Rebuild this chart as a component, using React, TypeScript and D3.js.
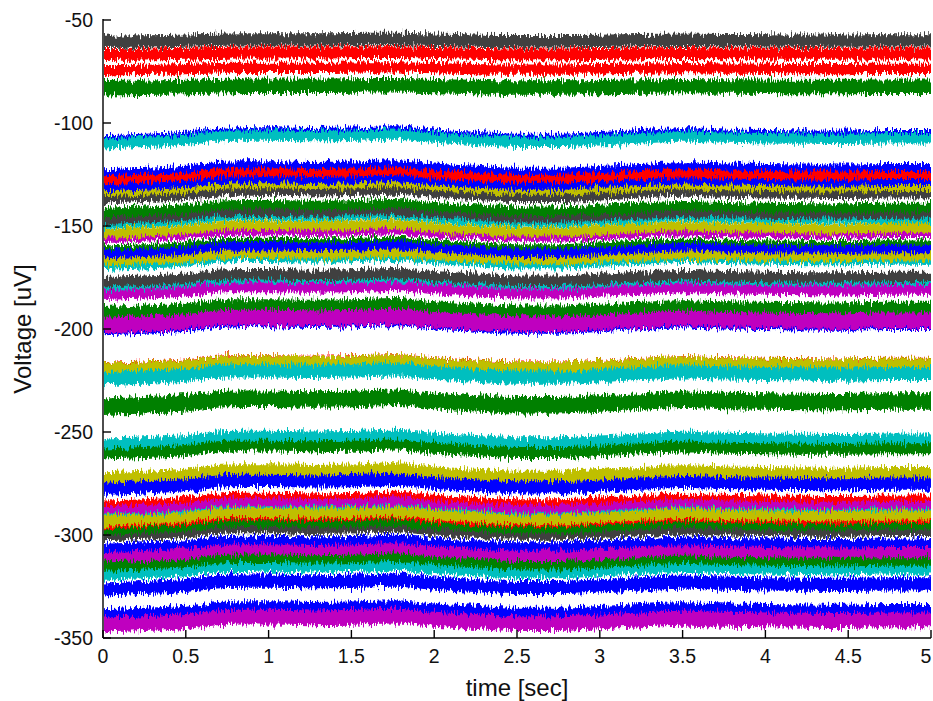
import React from "react";
import * as d3 from "d3";

const W = 933;
const H = 701;
const margin = { left: 103, right: 2, top: 20, bottom: 63 };

const driftTimes = [0, 0.25, 0.5, 0.75, 1, 1.25, 1.5, 1.75, 2, 2.25, 2.5, 2.75, 3, 3.25, 3.5, 3.75, 4, 4.25, 4.5, 4.75, 5];
const driftUpper = [-0.6, -0.4, 0, 0.5, 0.6, 0.6, 0.7, 0.8, 0.4, 0, -0.3, -0.3, -0.1, 0.2, 0.4, 0.2, 0.1, 0, 0, 0.1, 0.1];
const driftLower = [-2.5, -1.8, -0.8, 1.2, 1.3, 1.0, 1.2, 1.8, 0.3, -0.8, -1.8, -1.8, -1.0, 0, 0.8, 0.3, 0, -0.2, -0.3, 0, 0];

// channel mean level (uV), colour code and noise half-width (uV), in drawing order
const traceLevels = [
  -60, -66.5, -70.8, -74.3, -77.8, -82.5,
  -105.4, -107.4, -122.4, -126.3, -129.7, -132.6, -136, -137.8, -141.9, -145.8, -148, -149.7, -151.6,
  -155.5, -157, -158.8, -162.3, -165.7, -168.6, -171, -175.4, -178.8, -181.7, -185.6, -190, -198, -195.8,
  -218.5, -217.2, -221.6, -235.2,
  -256.6, -254.2, -259, -263, -270.2, -275.6, -279.5, -283.3, -286.3, -288.5, -291.1, -294.5, -296,
  -299.9, -301.5, -304.7, -308.6, -314, -313, -317.4, -320.2, -323.7, -336, -341.2,
];
const traceColors = [
  "k", "r", "w", "r", "w", "g",
  "b", "c", "b", "r", "b", "y", "k", "w", "g", "k", "c", "w", "y",
  "m", "w", "g", "b", "y", "c", "w", "k", "c", "m", "w", "g", "b", "m",
  "r", "y", "c", "g",
  "k", "c", "g", "w", "y", "b", "w", "r", "m", "c", "y", "r", "g",
  "k", "w", "b", "m", "k", "g", "c", "w", "b", "b", "m",
];
const traceSpreads = [
  3, 3, 1.5, 3, 1.5, 3.5,
  2, 2.5, 2.5, 3, 2.5, 2, 3, 1.2, 3.2, 2.5, 1.5, 1.2, 3,
  2.2, 1.2, 1.8, 3.2, 2.5, 1.8, 2.2, 3.2, 1.5, 3, 2.2, 3.2, 2.5, 3.8,
  4.5, 3, 3.2, 4,
  2, 3.5, 3.5, 2.2, 3.2, 3.5, 1.5, 2.5, 2.8, 1.2, 3, 1.5, 1.8,
  2.5, 1, 3, 2.8, 1.5, 2.2, 2.5, 1, 3.2, 2.5, 3.6,
];

const xTicks = [0, 0.5, 1, 1.5, 2, 2.5, 3, 3.5, 4, 4.5, 5];
const yTicks = [-50, -100, -150, -200, -250, -300, -350];

const palette: Record<string, string> = {
  b: "#0000ff",
  g: "#008000",
  r: "#ff0000",
  c: "#00bfbf",
  m: "#bf00bf",
  y: "#bfbf00",
  k: "#404040",
  w: "#ffffff",
};

const font = "'Liberation Sans', Arial, sans-serif";

export default function App() {
  const x = d3.scaleLinear().domain([0, 5]).range([margin.left, W - margin.right]);
  const y = d3.scaleLinear().domain([-350, -50]).range([H - margin.bottom, margin.top]);
  const x0 = x(0);
  const yBottom = y(-350);

  const band = (level: number, spread: number, drift: number[]) =>
    d3
      .area<number>()
      .x((_, i) => x(driftTimes[i]))
      .y0((d) => y(level + d - spread))
      .y1((d) => y(level + d + spread))
      .curve(d3.curveMonotoneX)(drift) || "";

  return (
    <svg
      width={W}
      height={H}
      style={{ position: "absolute", left: 0, top: 0, background: "#fff" }}
      fontFamily={font}
    >
      <defs>
        <clipPath id="plot">
          <rect x={x0 + 1} y={0} width={x(5) - x0 - 1} height={yBottom - 1} />
        </clipPath>
        <filter id="jitter" x="-2%" y="-5%" width="104%" height="110%" colorInterpolationFilters="sRGB">
          <feTurbulence type="fractalNoise" baseFrequency="0.7 0.09" numOctaves={2} seed={4} result="noise" />
          <feColorMatrix
            in="noise"
            type="matrix"
            values="0 0 0 0 0.5  0 1 0 0 0  0 0 0 0 0  0 0 0 0 1"
            result="dy"
          />
          <feDisplacementMap in="SourceGraphic" in2="dy" scale={13} xChannelSelector="R" yChannelSelector="G" />
        </filter>
      </defs>

      <g clipPath="url(#plot)">
        <g filter="url(#jitter)">
          {traceLevels.map((level, i) => (
            <path
              key={i}
              d={band(level, traceSpreads[i], level > -100 ? driftUpper : driftLower)}
              fill={palette[traceColors[i]]}
            />
          ))}
        </g>
      </g>

      {/* axes: left and bottom only, ticks pointing in */}
      <g stroke="#000" strokeWidth={1.4} fill="none">
        <line x1={x0} x2={x0} y1={y(-50) - 1} y2={yBottom} />
        <line x1={x0} x2={x(5)} y1={yBottom} y2={yBottom} />
        {yTicks.map((t) => (
          <line key={t} x1={x0} x2={x0 + 8} y1={y(t)} y2={y(t)} />
        ))}
        {xTicks.map((t) => (
          <line key={t} x1={x(t)} x2={x(t)} y1={yBottom} y2={yBottom - 8} />
        ))}
      </g>
      <g fontSize={19.5} fill="#111">
        {yTicks.map((t) => (
          <text key={t} x={x0 - 10} y={y(t)} dy="0.35em" textAnchor="end">
            {t}
          </text>
        ))}
        {xTicks.map((t) => (
          <text key={t} x={Math.min(x(t), W - 7)} y={yBottom + 25} textAnchor="middle">
            {t}
          </text>
        ))}
      </g>
      <text x={(x0 + x(5)) / 2} y={696} textAnchor="middle" fontSize={24} fill="#111">
        time [sec]
      </text>
      <text
        transform={`translate(31,${(y(-50) + yBottom) / 2}) rotate(-90)`}
        textAnchor="middle"
        fontSize={24}
        fill="#111"
      >
        Voltage [uV]
      </text>
    </svg>
  );
}
